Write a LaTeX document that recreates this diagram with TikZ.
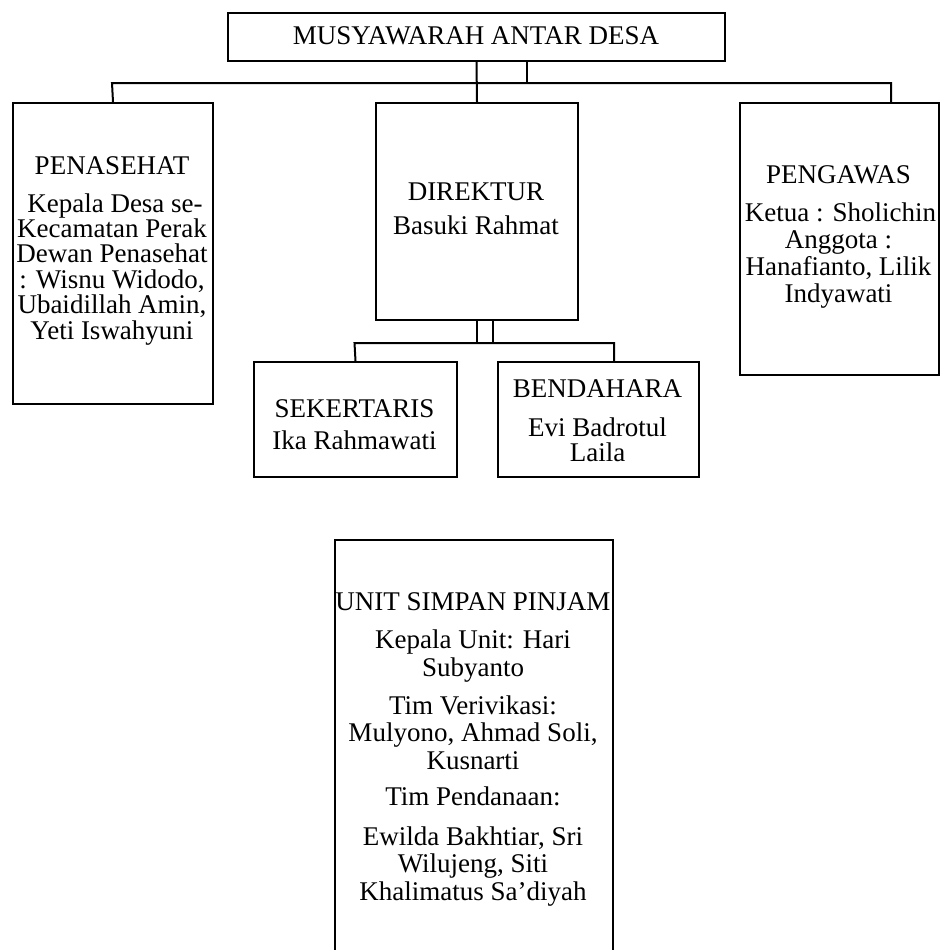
\documentclass[tikz,border=0pt]{standalone}
\usepackage{fontspec}
\setmainfont{Liberation Serif}
\begin{document}
\begin{tikzpicture}[x=1pt,y=-1pt,
  box/.style={draw, line width=2pt, rectangle, inner sep=0pt, anchor=north west},
  txt/.style={align=center, inner sep=0pt},
  conn/.style={line width=2pt}]
\useasboundingbox (0,0) rectangle (941,950);
\clip (0,0) rectangle (941,950);
% boxes
\node[box, minimum width=497pt, minimum height=48pt] (mad) at (227,12) {};
\node[box, minimum width=200pt, minimum height=301pt] (pen) at (12,102) {};
\node[box, minimum width=202pt, minimum height=217pt] (dir) at (375,102) {};
\node[box, minimum width=199pt, minimum height=272pt] (peng) at (739,102) {};
\node[box, minimum width=203pt, minimum height=115pt] (sek) at (253,361) {};
\node[box, minimum width=201pt, minimum height=115pt] (bend) at (497,361) {};
\node[box, minimum width=278pt, minimum height=430pt] (usp) at (334,539) {};
% connector points
\coordinate (jL) at (112,83);
\coordinate (jR) at (891,83);
\coordinate (jM) at (527,83);
\coordinate (kL) at (354.5,343);
\coordinate (kR) at (614,343);
\coordinate (kM) at (493,343);
% connectors
\draw[conn] (mad.south) -- (dir.north);
\draw[conn] (mad.south -| jM) -- (jM);
\draw[conn] (pen.north) -- (jL) -- (jR) -- (jR |- peng.north);
\draw[conn] (dir.south) -- (dir.south |- kL);
\draw[conn] (dir.south -| kM) -- (kM);
\draw[conn] (sek.north) -- (kL) -- (kR) -- (kR |- bend.north);
% texts
\node[txt, font=\fontsize{27}{27}\selectfont] (tmad) at (476,36) {MUSYAWARAH ANTAR DESA};
\node[txt, font=\fontsize{27}{25.4}\selectfont] (tpen) at (112,250.5)
  {PENASEHAT\\[12.6pt] \hspace*{6pt}Kepala Desa se-\\ Kecamatan Perak\\ Dewan Penasehat\\ : Wisnu Widodo,\\ Ubaidillah Amin,\\ Yeti Iswahyuni};
\node[txt, font=\fontsize{27}{26}\selectfont] (tdir) at (476,209)
  {DIREKTUR\\[8pt] Basuki Rahmat};
\node[txt, font=\fontsize{27}{26.7}\selectfont] (tpeng) at (838.5,237)
  {PENGAWAS\\[11.3pt] \hspace*{4pt}Ketua : Sholichin\\ Anggota :\\ Hanafianto, Lilik\\ Indyawati};
\node[txt, font=\fontsize{27}{26}\selectfont] (tsek) at (354.5,425)
  {SEKERTARIS\\[6pt] Ika Rahmawati};
\node[txt, font=\fontsize{27}{25.5}\selectfont] (tbend) at (597.5,421)
  {BENDAHARA\\[13pt] Evi Badrotul\\ Laila};
\node[txt, font=\fontsize{27}{27.5}\selectfont] (tusp) at (473,749.5)
  {UNIT SIMPAN PINJAM\\[10.5pt] Kepala Unit: Hari\\ Subyanto\\[10.5pt] Tim Verivikasi:\\ Mulyono, Ahmad Soli,\\ Kusnarti\\[8.5pt] Tim Pendanaan:\\[12.5pt] Ewilda Bakhtiar, Sri\\ Wilujeng, Siti\\ Khalimatus Sa’diyah};
\end{tikzpicture}
\end{document}
